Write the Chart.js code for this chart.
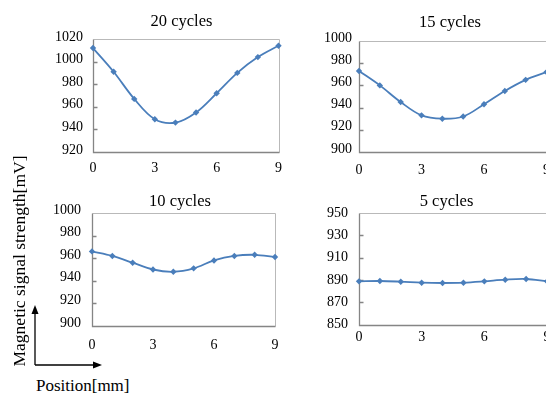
<!DOCTYPE html>
<html>
<head>
<meta charset="utf-8">
<script src="https://cdn.jsdelivr.net/npm/chart.js@4.4.1/dist/chart.umd.min.js"></script>
<style>
  html, body { margin: 0; padding: 0; background: #fff; }
  body { width: 546px; height: 393px; position: relative; overflow: hidden; font-family: "Liberation Serif", serif; color: #000; }
  canvas { position: absolute; }
  .ytitle { position: absolute; left: 19px; top: 261px; line-height: 20px; font-size: 17.5px; white-space: nowrap;
            transform: translate(-50%, -50%) rotate(-90deg); }
  .xtitle { position: absolute; left: 36px; top: 376px; line-height: 20px; font-size: 17px; white-space: nowrap; }
  svg { position: absolute; left: 0; top: 0; }
</style>
</head>
<body>
<canvas id="c20" width="290" height="180" style="left:0;top:0"></canvas>
<canvas id="c15" width="270" height="180" style="left:290px;top:0"></canvas>
<canvas id="c10" width="290" height="180" style="left:0;top:180px"></canvas>
<canvas id="c5" width="270" height="180" style="left:290px;top:180px"></canvas>

<div class="ytitle">Magnetic signal strength[mV]</div>
<div class="xtitle">Position[mm]</div>
<svg width="546" height="393">
  <line x1="35" y1="365" x2="35" y2="313" stroke="#000" stroke-width="1.3"/>
  <polygon points="35,305 31.5,314 38.5,314" fill="#000"/>
  <line x1="35" y1="365" x2="94" y2="365" stroke="#000" stroke-width="1.3"/>
  <polygon points="102,365 93,361.5 93,368.5" fill="#000"/>
</svg>

<script>
// position along the sample [mm]
const positions = [0, 1, 2, 3, 4, 5, 6, 7, 8, 9];

// magnetic signal strength [mV]
const cycles20 = [1012, 991, 967, 949, 946, 955, 972, 990, 1004, 1014];
const cycles15 = [973, 960, 945, 933, 930, 932, 943, 955, 965, 972];
const cycles10 = [966, 962, 956, 950, 948, 951, 958, 962, 963, 961];
const cycles5  = [888.7, 889, 888.4, 887.5, 887.2, 887.5, 888.7, 890.2, 890.8, 888.7];

const xTicks = [0, 3, 6, 9];

const BLUE = '#4a7ebb';
const FONT = 'Liberation Serif';

Chart.defaults.font.family = FONT;
Chart.defaults.color = '#000';

// plot area border + inside ticks + title
const framePlugin = {
  id: 'frame',
  beforeDatasetsDraw(chart, args, opts) {
    const { ctx, chartArea: a, scales: { y } } = chart;
    const l = Math.round(a.left) + 0.5, r = Math.round(a.right) + 0.5;
    const t = Math.round(a.top) + 0.5, b = Math.round(a.bottom) + 0.5;
    ctx.save();
    ctx.lineWidth = 1;
    ctx.strokeStyle = '#b9b9b9';
    ctx.beginPath();
    ctx.moveTo(l, t); ctx.lineTo(r, t); ctx.lineTo(r, b);
    ctx.stroke();
    ctx.strokeStyle = '#858585';
    ctx.lineWidth = 1.3;
    ctx.beginPath();
    ctx.moveTo(l, t); ctx.lineTo(l, b); ctx.lineTo(r, b);
    y.ticks.forEach(tk => {
      if (tk.value === y.min || tk.value === y.max) return;
      const py = Math.round(y.getPixelForValue(tk.value)) + 0.5;
      ctx.moveTo(l, py); ctx.lineTo(l + 4, py);
    });
    ctx.stroke();
    ctx.restore();
  },
  afterDraw(chart, args, opts) {
    const { ctx } = chart;
    ctx.save();
    ctx.font = '16.5px "Liberation Serif"';
    ctx.fillStyle = '#000';
    ctx.textAlign = 'center';
    ctx.textBaseline = 'alphabetic';
    ctx.fillText(opts.text, opts.x, opts.y);
    ctx.restore();
  }
};

function makeChart(id, title, values, yMin, yMax, step, box) {
  return new Chart(document.getElementById(id), {
    type: 'line',
    data: {
      datasets: [{
        data: positions.map((p, i) => ({ x: p, y: values[i] })),
        borderColor: BLUE,
        backgroundColor: BLUE,
        borderWidth: 1.8,
        pointStyle: 'rectRot',
        pointRadius: 3.2,
        pointBorderWidth: 0,
        tension: 0.35,
        clip: false
      }]
    },
    options: {
      responsive: false,
      animation: false,
      layout: { padding: { top: box.top, right: box.right, left: 0, bottom: 0 } },
      scales: {
        x: {
          type: 'linear',
          min: 0,
          max: 9,
          afterBuildTicks: s => { s.ticks = xTicks.map(v => ({ value: v })); },
          afterFit: s => { s.height = box.xh; },
          grid: { display: false, drawTicks: false },
          border: { display: false },
          ticks: { font: { family: FONT, size: 14 }, color: '#000', padding: box.xpad, maxRotation: 0,
                   callback: v => String(v) }
        },
        y: {
          min: yMin,
          max: yMax,
          afterFit: s => { s.width = box.yw; },
          grid: { display: false, drawTicks: false },
          border: { display: false },
          ticks: { stepSize: step, font: { family: FONT, size: 14 }, color: '#000', padding: box.ypad,
                   labelOffset: box.lo, callback: v => String(v) }
        }
      },
      plugins: {
        legend: { display: false },
        tooltip: { enabled: false },
        frame: { text: title, x: box.tx, y: box.ty }
      }
    },
    plugins: [framePlugin]
  });
}

makeChart('c20', '20 cycles', cycles20, 920, 1020, 20,
  { top: 39, right: 9, xh: 28, yw: 93, xpad: 8, ypad: 10, lo: -2, tx: 181.5, ty: 26 });
makeChart('c15', '15 cycles', cycles15, 900, 1000, 20,
  { top: 41, right: 12, xh: 28, yw: 69, xpad: 10, ypad: 7, lo: -3, tx: 160, ty: 26.5 });
makeChart('c10', '10 cycles', cycles10, 900, 1000, 20,
  { top: 33, right: 15, xh: 34, yw: 92, xpad: 11, ypad: 11, lo: -3, tx: 180, ty: 26 });
makeChart('c5', '5 cycles', cycles5, 850, 950, 20,
  { top: 33, right: 13, xh: 35.5, yw: 69, xpad: 4, ypad: 11, lo: 0, tx: 156.5, ty: 26 });
</script>
</body>
</html>
